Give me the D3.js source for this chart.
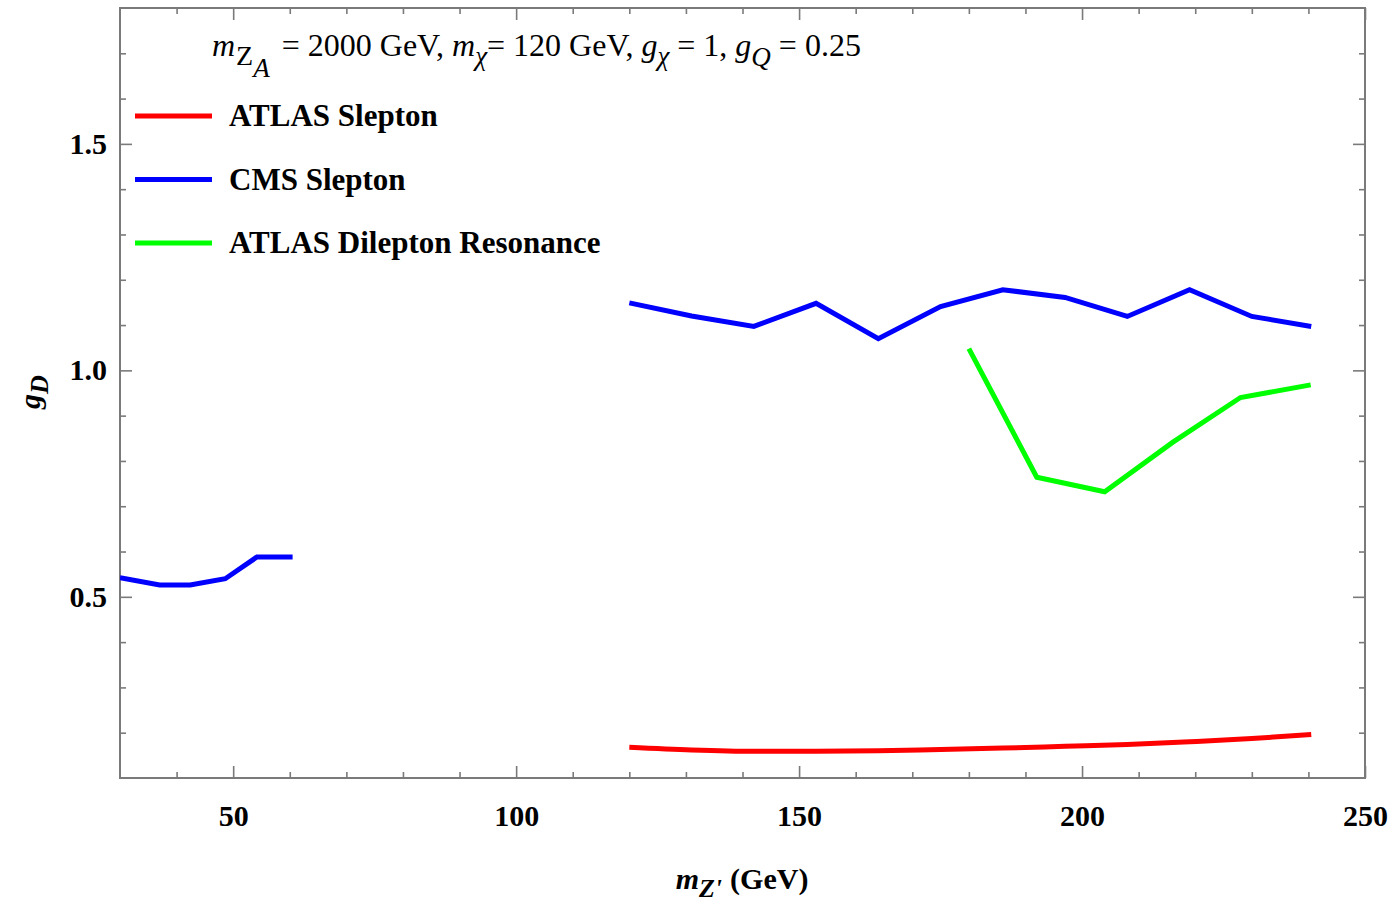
<!DOCTYPE html>
<html>
<head>
<meta charset="utf-8">
<script src="https://cdn.jsdelivr.net/npm/d3@7"></script>
<style>
  html, body { margin: 0; padding: 0; background: #fff; }
  svg { display: block; font-family: "Liberation Serif", "Times New Roman", serif; }
</style>
</head>
<body>
<svg id="chart" width="1394" height="903"></svg>
<script>
// ---- data ----
const cmsLowX = [30, 37, 42.4, 48.6, 54.2, 60.5];
const cmsLowY = [0.542, 0.526, 0.526, 0.540, 0.588, 0.588];

const cmsHighX = [120, 131, 142, 153, 164, 175, 186, 197, 208, 219, 230, 240.5];
const cmsHighY = [1.149, 1.120, 1.097, 1.148, 1.070, 1.141, 1.178, 1.161, 1.119, 1.178, 1.119, 1.097];

const atlasSlepX = [120, 131, 142, 153, 164, 175, 186, 197, 208, 219, 230, 240.5];
const atlasSlepY = [0.168, 0.162, 0.159, 0.159, 0.160, 0.163, 0.166, 0.170, 0.174, 0.180, 0.187, 0.196];

const dilepX = [180, 192, 204, 216, 228, 240.4];
const dilepY = [1.048, 0.764, 0.732, 0.841, 0.940, 0.968];

const xMajorTicks = [50, 100, 150, 200, 250];
const xMinorTicks = [40, 60, 70, 80, 90, 110, 120, 130, 140, 160, 170, 180, 190, 210, 220, 230, 240];
const yMajorTicks = [0.5, 1.0, 1.5];
const yMinorTicks = [0.2, 0.3, 0.4, 0.6, 0.7, 0.8, 0.9, 1.1, 1.2, 1.3, 1.4, 1.6, 1.7];

const legendNames = ["ATLAS Slepton", "CMS Slepton", "ATLAS Dilepton Resonance"];
const legendColors = ["#ff0000", "#0000ff", "#00ff00"];

// ---- layout ----
const W = 1394, H = 903;
const margin = { left: 120, top: 8, right: 29, bottom: 125 };
const iw = W - margin.left - margin.right;
const ih = H - margin.top - margin.bottom;

const svg = d3.select("#chart");
const g = svg.append("g").attr("transform", `translate(${margin.left},${margin.top})`);

const x = d3.scaleLinear().domain([30, 250]).range([0, iw]);
const y = d3.scaleLinear().domain([0.1, 1.8]).range([ih, 0]);

const axisColor = "#7a7a7a";
const tickFont = 30;

function styleAxis(sel) {
  sel.select(".domain").remove();
  sel.selectAll(".tick line").attr("stroke", axisColor).attr("stroke-width", 1.6);
  sel.selectAll(".tick text")
    .attr("fill", "#000")
    .style("font-family", "'Liberation Serif', 'Times New Roman', serif")
    .style("font-weight", "bold")
    .style("font-size", tickFont + "px");
}

// bottom
g.append("g").attr("transform", `translate(0,${ih})`)
  .call(d3.axisBottom(x).tickValues(xMajorTicks).tickSize(-12).tickPadding(27).tickFormat(d3.format("d")))
  .call(styleAxis);
g.append("g").attr("transform", `translate(0,${ih})`)
  .call(d3.axisBottom(x).tickValues(xMinorTicks).tickSize(-6).tickFormat(""))
  .call(styleAxis);
// top
g.append("g")
  .call(d3.axisTop(x).tickValues(xMajorTicks).tickSize(-12).tickFormat(""))
  .call(styleAxis);
g.append("g")
  .call(d3.axisTop(x).tickValues(xMinorTicks).tickSize(-6).tickFormat(""))
  .call(styleAxis);
// left
g.append("g")
  .call(d3.axisLeft(y).tickValues(yMajorTicks).tickSize(-12).tickPadding(13).tickFormat(d3.format(".1f")))
  .call(styleAxis);
g.append("g")
  .call(d3.axisLeft(y).tickValues(yMinorTicks).tickSize(-6).tickFormat(""))
  .call(styleAxis);
// right
g.append("g").attr("transform", `translate(${iw},0)`)
  .call(d3.axisRight(y).tickValues(yMajorTicks).tickSize(-12).tickFormat(""))
  .call(styleAxis);
g.append("g").attr("transform", `translate(${iw},0)`)
  .call(d3.axisRight(y).tickValues(yMinorTicks).tickSize(-6).tickFormat(""))
  .call(styleAxis);

// frame
g.append("rect").attr("x", 0).attr("y", 0).attr("width", iw).attr("height", ih)
  .attr("fill", "none").attr("stroke", axisColor).attr("stroke-width", 2);

// ---- lines ----
svg.append("defs").append("clipPath").attr("id", "clip")
  .append("rect").attr("x", 0).attr("y", 0).attr("width", iw).attr("height", ih);

const plot = g.append("g").attr("clip-path", "url(#clip)");

function zip(xs, ys) { return xs.map((v, i) => [v, ys[i]]); }

const lineLin = d3.line().x(d => x(d[0])).y(d => y(d[1]));
const lineSmooth = d3.line().x(d => x(d[0])).y(d => y(d[1])).curve(d3.curveMonotoneX);

plot.append("path").datum(zip(atlasSlepX, atlasSlepY))
  .attr("d", lineSmooth).attr("fill", "none").attr("stroke", legendColors[0]).attr("stroke-width", 5);
plot.append("path").datum(zip(cmsLowX, cmsLowY))
  .attr("d", lineLin).attr("fill", "none").attr("stroke", legendColors[1]).attr("stroke-width", 5);
plot.append("path").datum(zip(cmsHighX, cmsHighY))
  .attr("d", lineLin).attr("fill", "none").attr("stroke", legendColors[1]).attr("stroke-width", 5);
plot.append("path").datum(zip(dilepX, dilepY))
  .attr("d", lineLin).attr("fill", "none").attr("stroke", legendColors[2]).attr("stroke-width", 5);

// ---- legend ----
const legend = svg.append("g");
legendNames.forEach((name, i) => {
  const ly = 116 + i * 63.5;
  legend.append("line").attr("x1", 135).attr("x2", 212).attr("y1", ly).attr("y2", ly)
    .attr("stroke", legendColors[i]).attr("stroke-width", 5);
  legend.append("text").attr("x", 229).attr("y", ly + 10)
    .style("font-size", "31px").style("font-weight", "bold").attr("fill", "#000").text(name);
});

// ---- title ----
const title = svg.append("text").attr("x", 212).attr("y", 56).style("font-size", "32px").attr("fill", "#000");
title.append("tspan").style("font-style", "italic").text("m");
title.append("tspan").attr("dy", 9).attr("dx", 1).style("font-size", "28px").text("Z");
title.append("tspan").attr("dy", 12).style("font-style", "italic").style("font-size", "27px").text("A");
title.append("tspan").attr("dy", -21).attr("dx", 4).text(" = 2000 GeV, ");
title.append("tspan").style("font-style", "italic").text("m");
title.append("tspan").attr("dy", 9).style("font-style", "italic").style("font-size", "27px").text("χ");
title.append("tspan").attr("dy", -9).text("= 120 GeV, ");
title.append("tspan").style("font-style", "italic").text("g");
title.append("tspan").attr("dy", 9).style("font-style", "italic").style("font-size", "27px").text("χ");
title.append("tspan").attr("dy", -9).text(" = 1, ");
title.append("tspan").style("font-style", "italic").text("g");
title.append("tspan").attr("dy", 10).style("font-style", "italic").style("font-size", "27px").text("Q");
title.append("tspan").attr("dy", -10).text(" = 0.25");

// ---- axis labels ----
const xl = svg.append("text").attr("x", 742).attr("y", 889).attr("text-anchor", "middle")
  .style("font-size", "30px").style("font-weight", "bold").attr("fill", "#000");
xl.append("tspan").style("font-style", "italic").text("m");
xl.append("tspan").attr("dy", 8).style("font-style", "italic").style("font-size", "26px").text("Z'");
xl.append("tspan").attr("dy", -8).attr("dx", 8).text("(GeV)");

const yl = svg.append("text").attr("transform", "translate(40,392) rotate(-90)").attr("text-anchor", "middle")
  .style("font-size", "30px").style("font-weight", "bold").style("font-style", "italic").attr("fill", "#000");
yl.append("tspan").text("g");
yl.append("tspan").attr("dy", 8).style("font-size", "26px").text("D");
</script>
</body>
</html>
